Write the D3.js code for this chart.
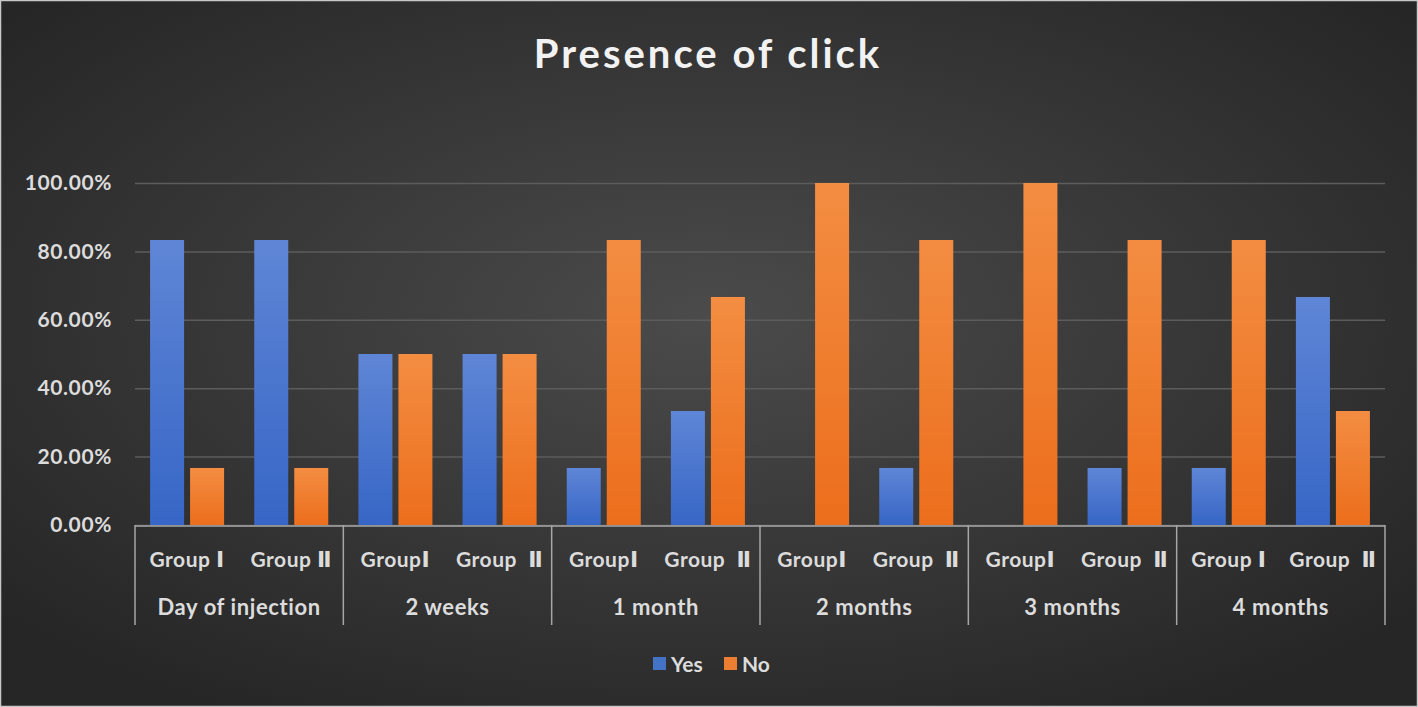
<!DOCTYPE html>
<html><head><meta charset="utf-8">
<script src="https://cdn.jsdelivr.net/npm/d3@7"></script>
<style>html,body{margin:0;padding:0;background:#2a2a2a;overflow:hidden}svg{display:block}</style>
</head><body>
<svg id="chart" width="1418" height="707"></svg>
<script>
const periods = ["Day of injection","2 weeks","1 month","2 months","3 months","4 months"];
const groups = ["GI","GII"];
const subLabels = [
  ["Group ", "Ⅰ"], ["Group ", "Ⅱ"],
  ["Group", "Ⅰ"], ["Group  ", "Ⅱ"],
  ["Group", "Ⅰ"], ["Group  ", "Ⅱ"],
  ["Group", "Ⅰ"], ["Group  ", "Ⅱ"],
  ["Group", "Ⅰ"], ["Group  ", "Ⅱ"],
  ["Group ", "Ⅰ"], ["Group  ", "Ⅱ"]
];
const seriesNames = ["Yes","No"];
// values per period, per group
const yesValues = [[0.8333,0.8333],[0.5,0.5],[0.1667,0.3333],[0,0.1667],[0,0.1667],[0.1667,0.6667]];
const noValues  = [[0.1667,0.1667],[0.5,0.5],[0.8333,0.6667],[1,0.8333],[1,0.8333],[0.8333,0.3333]];
const yTicks = [0,0.2,0.4,0.6,0.8,1.0];

(function(){
const W=1418,H=707;
const svg=d3.select("#chart");
const defs=svg.append("defs");
const bg=defs.append("radialGradient").attr("id","bg").attr("cx","50%").attr("cy","45%").attr("r","65%");
bg.append("stop").attr("offset","0%").attr("stop-color","#4b4b4b");
bg.append("stop").attr("offset","100%").attr("stop-color","#262626");
const gb=defs.append("linearGradient").attr("id","gYes").attr("x1",0).attr("y1",0).attr("x2",0).attr("y2",1);
gb.append("stop").attr("offset","0%").attr("stop-color","#5f86d6");
gb.append("stop").attr("offset","100%").attr("stop-color","#3766c6");
const go=defs.append("linearGradient").attr("id","gNo").attr("x1",0).attr("y1",0).attr("x2",0).attr("y2",1);
go.append("stop").attr("offset","0%").attr("stop-color","#f38d42");
go.append("stop").attr("offset","100%").attr("stop-color","#ec6e1c");
const fills={Yes:"url(#gYes)",No:"url(#gNo)"};
const solid={Yes:"#4472c4",No:"#ed7d31"};

svg.append("rect").attr("x",0.5).attr("y",0.5).attr("width",W-1).attr("height",H-1)
  .attr("fill","url(#bg)").attr("stroke","#c8c8c8").attr("stroke-width",1.5);

const font="Lato, 'Open Sans', sans-serif";
const txt="#dcdcdc";

svg.append("text").attr("x",708).attr("y",68).attr("text-anchor","middle")
  .attr("font-family",font).attr("font-weight","bold").attr("font-size",40)
  .attr("letter-spacing",3).attr("fill","#f2f2f2").text("Presence of click");

const pL=135,pR=1385,pT=183,pB=525;
const y=d3.scaleLinear().domain([0,1]).range([pB,pT]);
const x0=d3.scaleBand().domain(periods).range([pL,pR]);
const x1=d3.scaleBand().domain(groups).range([0,x0.bandwidth()]);
const x2=d3.scaleBand().domain(seriesNames).range([0,x1.bandwidth()]).paddingInner(0.15).paddingOuter(0.377);

const yAxis=d3.axisLeft(y).tickValues(yTicks).tickSize(-(pR-pL)).tickFormat(d3.format(".2%"));
const ga=svg.append("g").attr("transform",`translate(${pL},0)`).call(yAxis);
ga.select(".domain").remove();
ga.selectAll(".tick line").attr("stroke","#5c5c5c").attr("stroke-width",1.5);
ga.selectAll(".tick text").attr("x",-23).attr("fill",txt).attr("font-family",font)
  .attr("font-weight","bold").attr("font-size",21).attr("letter-spacing",0.6);

const pg=svg.selectAll(".period").data(periods).join("g").attr("transform",d=>`translate(${x0(d)},0)`);
pg.each(function(p,pi){
  const g=d3.select(this);
  groups.forEach((gr,gi)=>{
    const vals={Yes:yesValues[pi][gi],No:noValues[pi][gi]};
    seriesNames.forEach(s=>{
      const v=vals[s];
      if(v<=0) return;
      g.append("rect").attr("x",x1(gr)+x2(s)).attr("y",y(v)).attr("width",x2.bandwidth())
        .attr("height",y(0)-y(v)).attr("fill",fills[s]);
    });
  });
});

svg.append("line").attr("x1",pL).attr("x2",pR).attr("y1",pB+1).attr("y2",pB+1)
  .attr("stroke","#a6a6a6").attr("stroke-width",1.5);
const bounds=periods.map(p=>x0(p)).concat([pR]);
svg.selectAll(".sep").data(bounds).join("line").attr("x1",d=>d).attr("x2",d=>d)
  .attr("y1",pB).attr("y2",625).attr("stroke","#a6a6a6").attr("stroke-width",1.5);

periods.forEach((p,pi)=>{
  groups.forEach((gr,gi)=>{
    const lab=subLabels[pi*2+gi];
    const t=svg.append("text").attr("x",x0(p)+x1(gr)+x1.bandwidth()/2).attr("y",567)
      .attr("text-anchor","middle").attr("font-family",font).attr("font-weight","bold")
      .attr("font-size",21).attr("letter-spacing",0.5).attr("fill",txt).style("white-space","pre");
    t.append("tspan").text(lab[0]);
    t.append("tspan").attr("font-family","'DejaVu Sans', sans-serif").attr("font-weight","bold")
      .attr("font-size",22).text(lab[1]);
  });
  svg.append("text").attr("x",x0(p)+x0.bandwidth()/2).attr("y",615).attr("text-anchor","middle")
    .attr("font-family",font).attr("font-weight","bold").attr("font-size",22).attr("letter-spacing",0.6)
    .attr("fill",txt).text(p);
});

const legItems=[{n:"Yes",x:653},{n:"No",x:724}];
legItems.forEach(it=>{
  svg.append("rect").attr("x",it.x).attr("y",657).attr("width",13).attr("height",13).attr("fill",solid[it.n]);
  svg.append("text").attr("x",it.x+18).attr("y",672).attr("font-family",font).attr("font-weight","bold")
    .attr("font-size",21).attr("fill",txt).text(it.n);
});
})();
</script>
</body></html>
